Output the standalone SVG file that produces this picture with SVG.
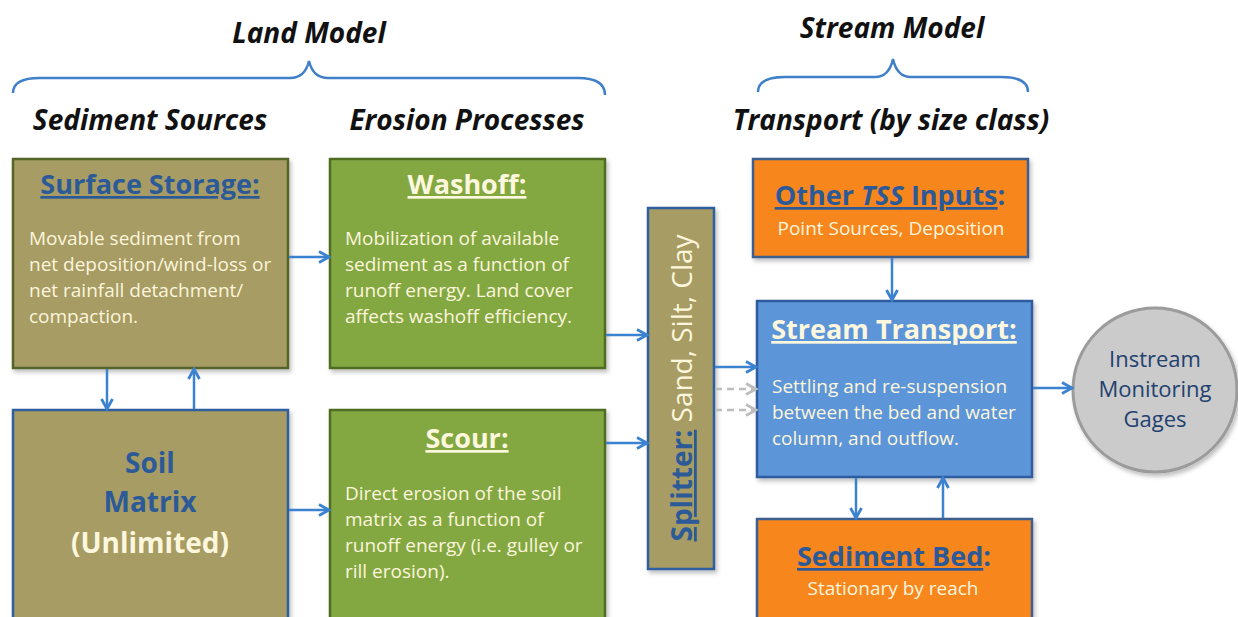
<svg xmlns="http://www.w3.org/2000/svg" width="1238" height="617" viewBox="0 0 1238 617">
<defs>
<style>
text{font-family:"Open Sans","Noto Sans","DejaVu Sans",sans-serif;}
.hdr{font-size:28px;font-weight:bold;font-style:italic;fill:#111;text-anchor:middle;}
.ttl{font-size:27px;font-weight:bold;text-anchor:middle;}
.body{font-size:19px;fill:#fcf5dc;}
.sub{font-size:19px;fill:#fcf5dc;text-anchor:middle;}
.blue{fill:#2c5a98;}
.cream{fill:#fdf7de;}
.u{text-decoration:underline;}
.khaki{fill:#a79c63;}
.green{fill:#83a843;stroke:#4f6c22;stroke-width:2.5;}
.orange{fill:#f7861f;stroke:#3c5f8f;stroke-width:2.5;}
.bluebox{fill:#5d95d9;stroke:#2d5d9f;stroke-width:2.5;}
.brace{fill:none;stroke:#3f80c8;stroke-width:2.5;}
.conn{stroke:#3b82d0;stroke-width:2.5;fill:none;}
.dash{stroke:#bdbdbd;stroke-width:2.5;stroke-dasharray:7 5;fill:none;}
.gage{font-size:22px;fill:#23416f;text-anchor:middle;}
</style>
<filter id="sh" x="-10%" y="-10%" width="130%" height="130%">
<feDropShadow dx="2" dy="3" stdDeviation="2" flood-color="#000" flood-opacity="0.25"/>
</filter>
<marker id="ah" viewBox="0 0 14 14" markerWidth="14" markerHeight="14" refX="12" refY="7" orient="auto" markerUnits="userSpaceOnUse">
<path d="M2,1.5 L12,7 L2,12.5" fill="none" stroke="#3b82d0" stroke-width="2.8"/>
</marker>
<marker id="ahg" viewBox="0 0 14 14" markerWidth="14" markerHeight="14" refX="12" refY="7" orient="auto" markerUnits="userSpaceOnUse">
<path d="M2,1.5 L12,7 L2,12.5" fill="none" stroke="#bdbdbd" stroke-width="2.8"/>
</marker>
</defs>
<rect width="1238" height="617" fill="#ffffff"/>

<g id="headers">
<text class="hdr" x="309" y="43">Land Model</text>
<text class="hdr" x="892" y="38">Stream Model</text>
<text class="hdr" x="150" y="130">Sediment Sources</text>
<text class="hdr" x="467" y="130">Erosion Processes</text>
<text class="hdr" x="891" y="130">Transport (by size class)</text>
<path class="brace" d="M13 93 Q13 78 40 78 L290 78 Q305 78 309 61 Q313 78 328 78 L578 78 Q605 78 605 95"/>
<path class="brace" d="M758 92 Q758 77 785 77 L875 77 Q889 77 893 59 Q897 77 911 77 L1001 77 Q1028 77 1028 92"/>
</g>

<g id="surface-storage">
<rect x="13" y="159" width="275" height="209" class="khaki" stroke="#55652b" stroke-width="2.5" filter="url(#sh)"/>
<text class="ttl blue" x="150" y="194"><tspan class="u">Surface Storage:</tspan></text>
<text class="body" x="29" y="245">Movable sediment from</text>
<text class="body" x="29" y="271">net deposition/wind-loss or</text>
<text class="body" x="29" y="297">net rainfall detachment/</text>
<text class="body" x="29" y="323">compaction.</text>
</g>

<g id="washoff">
<rect x="330" y="159" width="275" height="209" class="green" filter="url(#sh)"/>
<text class="ttl cream" x="467" y="194"><tspan class="u">Washoff:</tspan></text>
<text class="body" x="345" y="245">Mobilization of available</text>
<text class="body" x="345" y="271">sediment as a function of</text>
<text class="body" x="345" y="297">runoff energy. Land cover</text>
<text class="body" x="345" y="323">affects washoff efficiency.</text>
</g>

<g id="soil-matrix">
<rect x="13" y="410" width="275" height="230" class="khaki" stroke="#2f5f9e" stroke-width="2.5" filter="url(#sh)"/>
<text class="ttl blue" x="150" y="473" style="font-size:28px">Soil</text>
<text class="ttl blue" x="150" y="512" style="font-size:28px">Matrix</text>
<text class="ttl cream" x="150" y="553" style="font-size:28px">(Unlimited)</text>
</g>

<g id="scour">
<rect x="330" y="410" width="275" height="230" class="green" filter="url(#sh)"/>
<text class="ttl cream" x="467" y="448"><tspan class="u">Scour:</tspan></text>
<text class="body" x="345" y="500">Direct erosion of the soil</text>
<text class="body" x="345" y="526">matrix as a function of</text>
<text class="body" x="345" y="552">runoff energy (i.e. gulley or</text>
<text class="body" x="345" y="578">rill erosion).</text>
</g>

<g id="splitter">
<rect x="648" y="208" width="66" height="361" class="khaki" stroke="#2f5f9e" stroke-width="2.5" filter="url(#sh)"/>
<text transform="translate(692,388) rotate(-90)" text-anchor="middle" style="font-size:28px"><tspan class="blue u" font-weight="bold">Splitter:</tspan><tspan class="cream"> Sand, Silt, Clay</tspan></text>
</g>

<g id="other-tss">
<rect x="753" y="159" width="275" height="98" class="orange" filter="url(#sh)"/>
<text class="ttl blue" x="890" y="205"><tspan class="u">Other <tspan font-style="italic">TSS</tspan> Inputs</tspan>:</text>
<text class="sub" x="891" y="235">Point Sources, Deposition</text>
</g>

<g id="stream-transport">
<rect x="757" y="301" width="275" height="176" class="bluebox" filter="url(#sh)"/>
<text class="ttl cream" x="894" y="339"><tspan class="u">Stream Transport:</tspan></text>
<text class="body" x="772" y="393">Settling and re-suspension</text>
<text class="body" x="772" y="419">between the bed and water</text>
<text class="body" x="772" y="445">column, and outflow.</text>
</g>

<g id="sediment-bed">
<rect x="757" y="519" width="275" height="120" class="orange" filter="url(#sh)"/>
<text class="ttl blue" x="894" y="566"><tspan class="u">Sediment Bed</tspan>:</text>
<text class="sub" x="893" y="595">Stationary by reach</text>
</g>

<g id="instream-gages">
<circle cx="1155" cy="390" r="82" fill="#cbcbcb" stroke="#9b9b9b" stroke-width="3" filter="url(#sh)"/>
<text class="gage" x="1155" y="367">Instream</text>
<text class="gage" x="1155" y="397">Monitoring</text>
<text class="gage" x="1155" y="427">Gages</text>
</g>

<g id="connectors">
<line class="conn" x1="289" y1="257" x2="329" y2="257" marker-end="url(#ah)"/>
<line class="conn" x1="107" y1="369" x2="107" y2="409" marker-end="url(#ah)"/>
<line class="conn" x1="194" y1="409" x2="194" y2="369" marker-end="url(#ah)"/>
<line class="conn" x1="289" y1="510" x2="329" y2="510" marker-end="url(#ah)"/>
<line class="conn" x1="606" y1="335" x2="647" y2="335" marker-end="url(#ah)"/>
<line class="conn" x1="606" y1="443" x2="647" y2="443" marker-end="url(#ah)"/>
<line class="conn" x1="715" y1="367" x2="756" y2="367" marker-end="url(#ah)"/>
<line class="dash" x1="715" y1="389" x2="756" y2="389" marker-end="url(#ahg)"/>
<line class="dash" x1="715" y1="410" x2="756" y2="410" marker-end="url(#ahg)"/>
<line class="conn" x1="892" y1="258" x2="892" y2="300" marker-end="url(#ah)"/>
<line class="conn" x1="856" y1="478" x2="856" y2="518" marker-end="url(#ah)"/>
<line class="conn" x1="943" y1="518" x2="943" y2="478" marker-end="url(#ah)"/>
<line class="conn" x1="1033" y1="388" x2="1072" y2="388" marker-end="url(#ah)"/>
</g>
</svg>
